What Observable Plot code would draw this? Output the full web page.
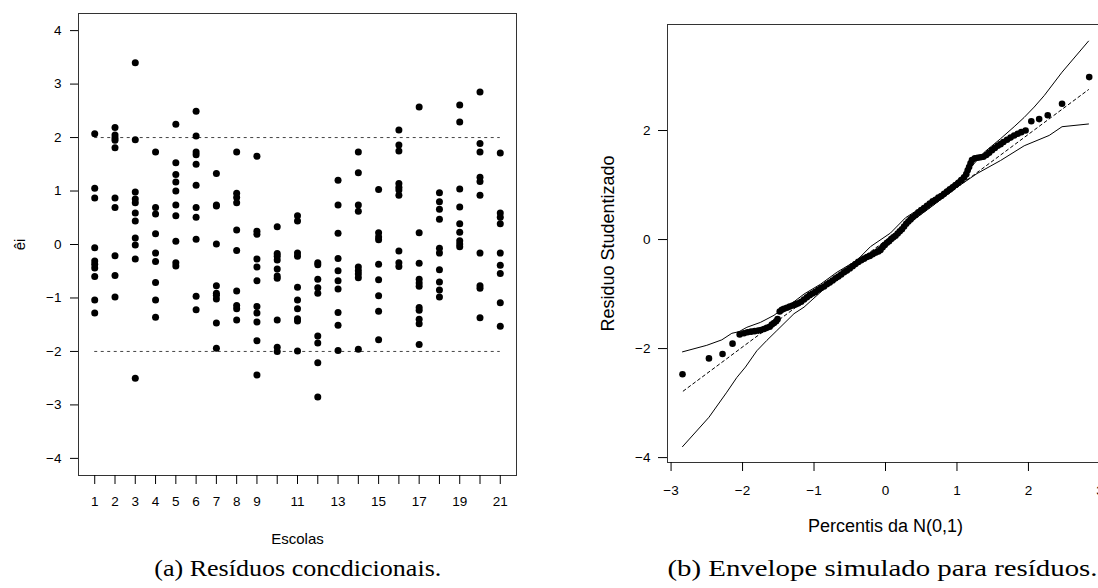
<!DOCTYPE html>
<html>
<head>
<meta charset="utf-8">
<script src="https://cdn.jsdelivr.net/npm/d3@7"></script>
<script src="https://cdn.jsdelivr.net/npm/@observablehq/plot@0.6"></script>
<style>
html, body { margin: 0; padding: 0; background: #fff; overflow: hidden; width: 1098px; height: 588px; }
#wrap { position: relative; width: 1098px; height: 588px; overflow: hidden; background: #fff; }
.panel { position: absolute; top: 0; }
.panel text { font-family: Arial, Helvetica, "Liberation Sans", Arimo, Roboto, sans-serif; font-variant-numeric: normal; }
.cap { position: absolute; top: 557px; font-family: "Times New Roman", Times, "Liberation Serif", serif; font-size: 23px; line-height: 23px; color: #000; white-space: nowrap; transform-origin: center top; }
</style>
</head>
<body>
<div id="wrap"></div>
<script>
// ---------- Painel (a): resíduos condicionais por escola ----------
const escolas = [1,2,3,4,5,6,7,8,9,10,11,12,13,14,15,16,17,18,19,20,21];
const rotulosEscolas = [1,2,3,4,5,6,7,8,9,11,13,15,17,19,21];
const ticksEi = [-4,-3,-2,-1,0,1,2,3,4];
const limites = [2, -2];
const residuos = [
  [2.07, 1.05, 0.87, -0.06, -0.31, -0.37, -0.44, -0.60, -1.04, -1.28],
  [2.19, 2.05, 1.99, 1.95, 1.81, 0.87, 0.69, -0.21, -0.58, -0.98],
  [3.40, 1.96, 0.98, 0.85, 0.78, 0.59, 0.44, 0.12, -0.01, -0.27, -2.50],
  [1.73, 0.69, 0.57, 0.20, -0.16, -0.32, -0.71, -1.04, -1.36],
  [2.25, 1.53, 1.31, 1.17, 1.00, 0.74, 0.54, 0.06, -0.34, -0.40],
  [2.49, 2.03, 1.73, 1.68, 1.50, 1.11, 0.69, 0.51, 0.10, -0.97, -1.22],
  [1.33, 0.74, 0.72, 0.01, -0.77, -0.91, -0.95, -1.02, -1.47, -1.94],
  [1.73, 0.96, 0.88, 0.78, 0.27, -0.11, -0.87, -1.14, -1.20, -1.41],
  [1.65, 0.25, 0.19, -0.27, -0.42, -0.68, -1.16, -1.28, -1.45, -1.80, -2.44],
  [0.33, -0.17, -0.22, -0.29, -0.46, -0.59, -0.63, -1.41, -1.92, -2.00],
  [0.54, 0.44, -0.16, -0.22, -0.80, -1.04, -1.20, -1.39, -1.43, -1.99],
  [-0.34, -0.38, -0.65, -0.81, -0.91, -1.71, -1.84, -2.21, -2.85],
  [1.20, 0.74, 0.21, -0.26, -0.49, -0.68, -0.83, -1.27, -1.51, -1.98],
  [1.73, 1.34, 0.74, 0.62, -0.42, -0.49, -0.55, -0.62, -1.96],
  [1.03, 0.22, 0.14, 0.09, -0.37, -0.66, -0.96, -1.25, -1.78],
  [2.14, 1.86, 1.75, 1.14, 1.07, 1.02, 0.92, -0.12, -0.34, -0.41],
  [2.57, 0.22, -0.35, -0.65, -0.72, -0.78, -1.18, -1.23, -1.40, -1.48, -1.87],
  [0.97, 0.80, 0.66, 0.47, -0.07, -0.16, -0.47, -0.70, -0.85, -0.98],
  [2.61, 2.29, 1.04, 0.70, 0.39, 0.23, 0.07, 0.01, -0.04],
  [2.85, 1.89, 1.73, 1.26, 1.18, 0.92, -0.16, -0.77, -0.82, -1.37],
  [1.71, 0.59, 0.51, 0.39, -0.16, -0.39, -0.54, -1.09, -1.53]
];

// ---------- Painel (b): envelope simulado ----------
const percentis = [-2.84,-2.47,-2.28,-2.14,-2.04,-1.98,-1.93,-1.88,-1.83,-1.78,-1.74,-1.70,-1.66,-1.62,-1.59,-1.56,-1.53,-1.51,
  -1.48,-1.45,-1.42,-1.38,-1.34,-1.30,-1.26,-1.22,-1.18,-1.14,-1.10,-1.06,-1.02,-0.98,-0.94,-0.90,-0.86,-0.82,-0.78,-0.74,-0.70,
  -0.66,-0.62,-0.58,-0.54,-0.50,-0.46,-0.42,-0.38,-0.34,-0.30,-0.26,-0.22,-0.18,-0.14,-0.10,-0.07,-0.04,-0.01,0.02,0.05,0.08,
  0.11,0.14,0.17,0.20,0.23,0.26,0.29,0.32,0.35,0.38,0.42,0.46,0.50,0.54,0.58,0.62,0.66,0.70,0.74,0.78,0.82,0.86,0.90,0.94,0.98,
  1.02,1.06,1.10,1.13,1.15,1.17,1.19,1.21,1.25,1.29,1.33,1.37,1.41,1.45,1.49,1.53,1.57,1.61,1.65,1.70,1.75,1.80,1.85,1.90,1.96,
  2.04,2.15,2.27,2.47,2.85];
const residuoStud = [-2.47,-2.18,-2.10,-1.91,-1.74,-1.72,-1.70,-1.69,-1.68,-1.67,-1.66,-1.64,-1.62,-1.60,-1.56,-1.53,-1.50,-1.46,
  -1.32,-1.29,-1.27,-1.25,-1.23,-1.21,-1.19,-1.17,-1.14,-1.10,-1.06,-1.02,-0.99,-0.96,-0.92,-0.89,-0.86,-0.82,-0.79,-0.75,-0.71,
  -0.68,-0.64,-0.60,-0.57,-0.53,-0.49,-0.45,-0.41,-0.38,-0.35,-0.32,-0.30,-0.27,-0.24,-0.22,-0.19,-0.14,-0.10,-0.06,-0.03,0.01,
  0.04,0.07,0.11,0.15,0.19,0.24,0.29,0.33,0.37,0.41,0.45,0.50,0.54,0.58,0.62,0.66,0.70,0.73,0.77,0.80,0.84,0.88,0.92,0.96,1.00,
  1.04,1.09,1.14,1.20,1.27,1.33,1.40,1.46,1.49,1.50,1.51,1.52,1.55,1.59,1.64,1.68,1.72,1.75,1.79,1.83,1.87,1.91,1.94,1.97,2.00,
  2.17,2.21,2.28,2.49,2.98];
const envSupX = [-2.84,-2.50,-2.29,-2.15,-2.05,-1.94,-1.75,-1.56,-1.47,-1.33,-1.14,-0.91,-0.68,-0.40,-0.21,0.07,0.28,0.54,0.77,1.00,1.19,1.38,1.61,1.80,1.94,2.08,2.22,2.47,2.84];
const envSupY = [-2.06,-1.94,-1.84,-1.72,-1.69,-1.61,-1.52,-1.39,-1.30,-1.19,-1.00,-0.82,-0.60,-0.38,-0.13,0.12,0.40,0.62,0.84,1.08,1.32,1.60,1.85,2.07,2.24,2.43,2.64,3.07,3.64];
const envInfX = [-2.84,-2.47,-2.22,-2.08,-1.96,-1.80,-1.66,-1.52,-1.28,-1.14,-0.82,-0.68,-0.40,-0.21,0.12,0.26,0.63,1.00,1.28,1.61,1.94,2.29,2.47,2.84];
const envInfY = [-3.80,-3.26,-2.80,-2.53,-2.34,-2.04,-1.85,-1.67,-1.36,-1.24,-0.86,-0.75,-0.45,-0.26,0.10,0.23,0.59,0.96,1.21,1.45,1.72,1.91,2.07,2.12];
const refX = [-2.83, 2.84];
const refY = [-2.78, 2.75];
const ticksPercentis = [-3,-2,-1,0,1,2,3];
const ticksResiduo = [-4,-2,0,2];

const FONT = 'Arial, Helvetica, "Liberation Sans", Arimo, Roboto, sans-serif';
const wrap = document.getElementById("wrap");
const fmtInt = d3.format("d");

const pontos = escolas.flatMap((e, i) => residuos[i].map(r => ({escola: e, residuo: r})));

const painelA = Plot.plot({
  width: 560, height: 555,
  marginLeft: 78, marginRight: 44, marginTop: 13, marginBottom: 80,
  style: {fontFamily: FONT, fontSize: "13.5px", background: "transparent", color: "#000", overflow: "visible"},
  x: {domain: [0.2, 21.8]},
  y: {domain: [-4.32, 4.32]},
  marks: [
    Plot.ruleY(limites, {x1: escolas[0], x2: escolas[escolas.length - 1], stroke: "#444", strokeWidth: 1, strokeDasharray: "3,3.5"}),
    Plot.dot(pontos, {x: "escola", y: "residuo", r: 3.5, fill: "#000", stroke: null}),
    Plot.frame({stroke: "#333", strokeWidth: 1}),
    Plot.axisX(escolas, {tickFormat: d => rotulosEscolas.includes(d) ? fmtInt(d) : "", tickSize: 9, tickPadding: 12, label: null}),
    Plot.axisX([], {label: "Escolas", labelAnchor: "center", labelOffset: 68, labelArrow: "none", fontSize: 15, tickSize: 0}),
    Plot.axisY(ticksEi, {tickFormat: fmtInt, tickSize: 8, tickPadding: 9, label: null}),
    Plot.axisY([], {label: "êi", labelAnchor: "center", labelOffset: 64, labelArrow: "none", fontSize: 15, tickSize: 0})
  ]
});
painelA.classList.add("panel");
painelA.style.left = "0px";
wrap.appendChild(painelA);

const painelB = Plot.plot({
  width: 543, height: 555,
  marginLeft: 87, marginRight: 20, marginTop: 24, marginBottom: 93,
  style: {fontFamily: FONT, fontSize: "13.5px", background: "transparent", color: "#000", overflow: "visible"},
  x: {domain: [-3.05, 3.05]},
  y: {domain: [-4.09, 3.945]},
  marks: [
    Plot.line(envSupX, {x: envSupX, y: envSupY, stroke: "#000", strokeWidth: 1}),
    Plot.line(envInfX, {x: envInfX, y: envInfY, stroke: "#000", strokeWidth: 1}),
    Plot.line(refX, {x: refX, y: refY, stroke: "#000", strokeWidth: 1, strokeDasharray: "3,3"}),
    Plot.dot(percentis, {x: percentis, y: residuoStud, r: 3.3, fill: "#000", stroke: null}),
    Plot.frame({stroke: "#333", strokeWidth: 1}),
    Plot.axisX(ticksPercentis, {tickFormat: fmtInt, tickSize: 9, tickPadding: 14, label: null}),
    Plot.axisX([], {label: "Percentis da N(0,1)", labelAnchor: "center", labelOffset: 69, labelArrow: "none", fontSize: 18, tickSize: 0}),
    Plot.axisY(ticksResiduo, {tickFormat: fmtInt, tickSize: 9, tickPadding: 8, label: null}),
    Plot.axisY([], {label: "Residuo Studentizado", labelAnchor: "center", labelOffset: 66, labelArrow: "none", fontSize: 18, tickSize: 0})
  ]
});
painelB.classList.add("panel");
painelB.style.left = "580px";
wrap.appendChild(painelB);

// ---------- Legendas (captions) ----------
function legenda(texto, centro, largura) {
  const el = document.createElement("div");
  el.className = "cap";
  el.textContent = texto;
  wrap.appendChild(el);
  const w = el.getBoundingClientRect().width;
  el.style.left = (centro - w / 2) + "px";
  el.style.transform = `scaleX(${largura / w})`;
}
legenda("(a) Resíduos concdicionais.", 297.5, 287);
legenda("(b) Envelope simulado para resíduos.", 882, 430);
</script>
</body>
</html>
